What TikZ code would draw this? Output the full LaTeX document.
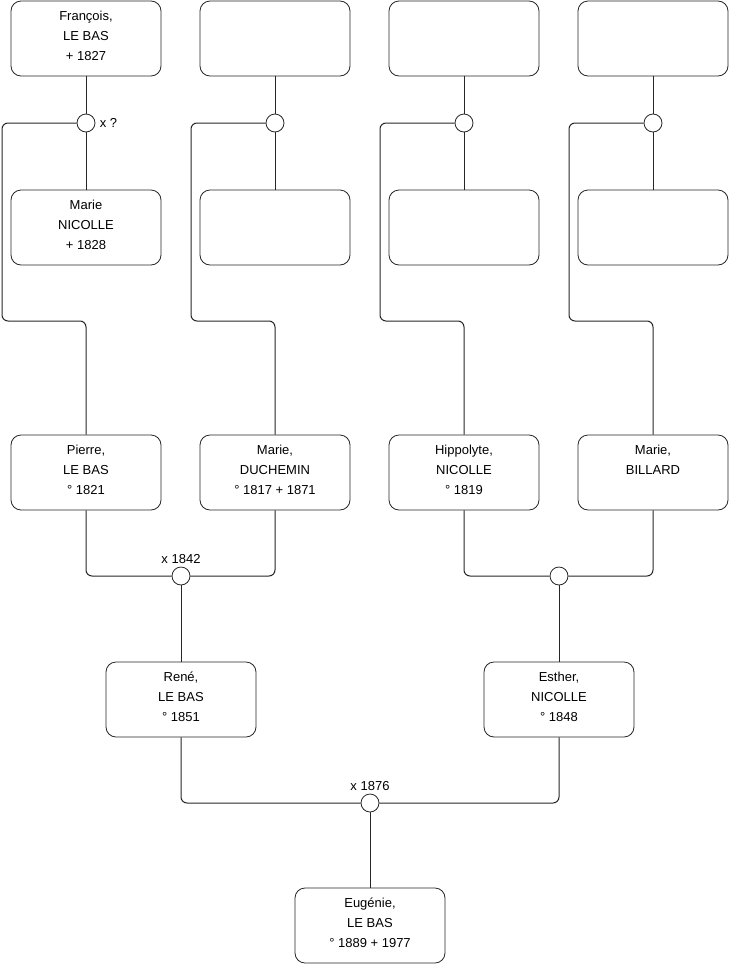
\documentclass[tikz,border=0pt]{standalone}
\usepackage{fontspec}
\setmainfont{Liberation Sans}
\usetikzlibrary{positioning}
\begin{document}
\begin{tikzpicture}[x=0.5pt,y=-0.5pt,
 person/.style={draw=black!85,rounded corners=5pt,minimum width=75pt,minimum height=37.5pt,align=center,inner sep=0pt,text depth=2.5pt,font=\fontsize{6.5}{10}\selectfont},
 wed/.style={draw=black!85,fill=white,circle,minimum size=9pt,inner sep=0pt},
 wedlabel/.style={inner sep=1pt,font=\fontsize{6.5}{8}\selectfont},
 link/.style={draw=black!85,line width=0.5pt,rounded corners=3pt}]
\useasboundingbox (0,0) rectangle (740,975);

% generation 1
\node[person] (francois) at (86,38.5) {François,\\LE BAS\\ + 1827};
\node[person] (u2) at (275,38.5) {};
\node[person] (u3) at (464,38.5) {};
\node[person] (u4) at (653,38.5) {};

\node[wed] (m1) at (86,123) {};
\node[wed] (m2) at (275,123) {};
\node[wed] (m3) at (464,123) {};
\node[wed] (m4) at (653,123) {};
\node[wedlabel,right=1pt of m1] (m1x) {x ?};

\node[person] (marieN) at (86,227.5) {Marie\\NICOLLE\\ + 1828};
\node[person] (w2) at (275,227.5) {};
\node[person] (w3) at (464,227.5) {};
\node[person] (w4) at (653,227.5) {};

% generation 2
\node[person] (pierre) at (86,472.5) {Pierre,\\LE BAS\\° 1821};
\node[person] (marieD) at (275,472.5) {Marie,\\DUCHEMIN\\° 1817 + 1871};
\node[person] (hippolyte) at (464,472.5) {Hippolyte,\\NICOLLE\\° 1819};
\node[person] (marieB) at (653,472.5) {Marie,\\BILLARD\\\mbox{}};

\node[wed] (m5) at (181,576) {};
\node[wed] (m6) at (559,576) {};
\node[wedlabel,above=0.5pt of m5] (m5x) {x 1842};

% generation 3
\node[person] (rene) at (181,699.5) {René,\\LE BAS\\° 1851};
\node[person] (esther) at (559,699.5) {Esther,\\NICOLLE\\° 1848};

\node[wed] (m7) at (370,803) {};
\node[wedlabel,above=0.5pt of m7] (m7x) {x 1876};

\node[person] (eugenie) at (370,925.5) {Eugénie,\\LE BAS\\° 1889 + 1977};

% links
\foreach \up/\w/\down in {francois/m1/marieN,u2/m2/w2,u3/m3/w3,u4/m4/w4}
  \draw[link] (\up) -- (\w) -- (\down);
\draw[link] (m1.west) -| (2,321) -| (pierre.north);
\draw[link] (m2.west) -| (191,321) -| (marieD.north);
\draw[link] (m3.west) -| (380,321) -| (hippolyte.north);
\draw[link] (m4.west) -| (569,321) -| (marieB.north);

\draw[link] (pierre.south) |- (m5.west);
\draw[link] (marieD.south) |- (m5.east);
\draw[link] (hippolyte.south) |- (m6.west);
\draw[link] (marieB.south) |- (m6.east);
\draw[link] (m5) -- (rene);
\draw[link] (m6) -- (esther);

\draw[link] (rene.south) |- (m7.west);
\draw[link] (esther.south) |- (m7.east);
\draw[link] (m7) -- (eugenie);
\end{tikzpicture}
\end{document}
